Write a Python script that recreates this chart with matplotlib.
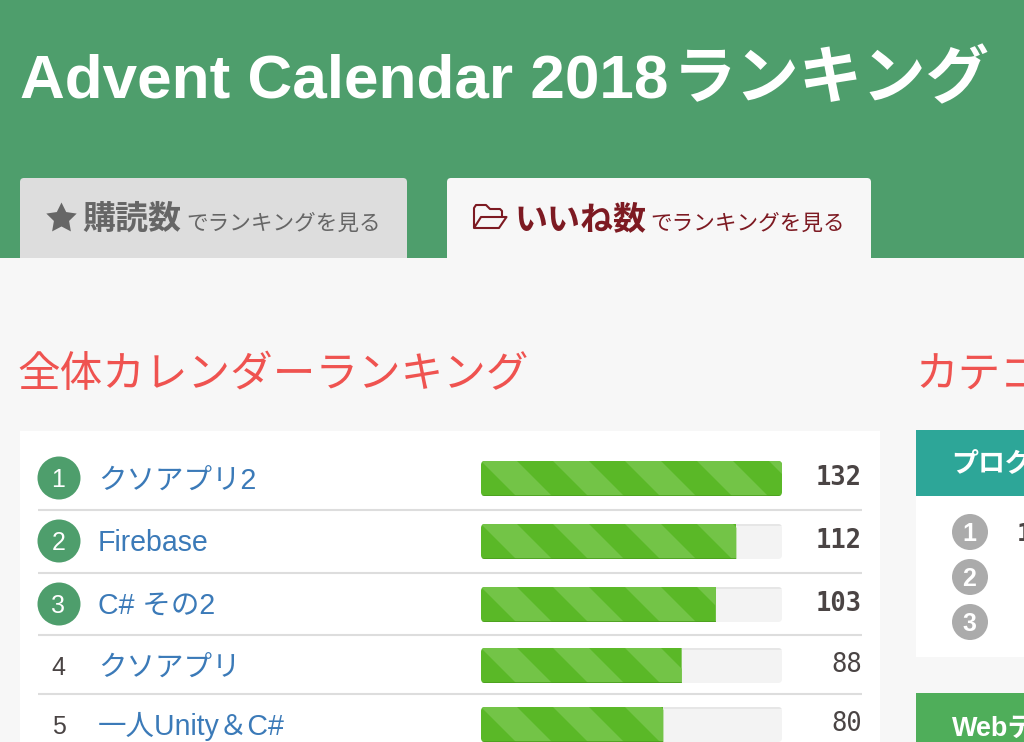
import matplotlib
matplotlib.use("Agg")
import numpy as np
import matplotlib.pyplot as plt
from matplotlib.patches import Rectangle, Circle, PathPatch, Polygon
from matplotlib.path import Path

RANKS = ["1", "2", "3", "4", "5"]
NAMES = ["クソアプリ2", "Firebase", "C# その2", "クソアプリ", "一人Unity＆C#"]
VALUES = [132, 112, 103, 88, 80]
MAX_VALUE = 132
SIDE_RANKS = ["1", "2", "3"]

SANS = ["Liberation Sans", "Noto Sans CJK JP", "DejaVu Sans"]
JP = ["Noto Sans CJK JP", "DejaVu Sans"]
plt.rcParams["font.family"] = SANS

HEADER = "#4E9E6C"
PAGE = "#F7F7F7"
LINK = "#3B7AB8"
INK = "#4A4444"
PX = 0.72

fig = plt.figure(figsize=(10.24, 7.42), dpi=100, facecolor=PAGE)
ax = fig.add_axes([0, 0, 1, 1])
ax.set_xlim(0, 1024)
ax.set_ylim(742, 0)
ax.axis("off")


def rounded(x0, y0, x1, y1, rl, rr):
    M, L, C = Path.MOVETO, Path.LINETO, Path.CURVE3
    v = [(x0 + rl, y0), (x1 - rr, y0), (x1, y0), (x1, y0 + rr), (x1, y1 - rr), (x1, y1), (x1 - rr, y1),
         (x0 + rl, y1), (x0, y1), (x0, y1 - rl), (x0, y0 + rl), (x0, y0), (x0 + rl, y0), (x0 + rl, y0)]
    c = [M, L, C, C, L, C, C, L, C, C, L, C, C, Path.CLOSEPOLY]
    return Path(v, c)


def T(x, y, s, px, color, **kw):
    kw.setdefault("va", "baseline")
    return ax.text(x, y, s, fontsize=px * PX, color=color, **kw)


# header and tabs
ax.add_patch(Rectangle((0, 0), 1024, 258, fc=HEADER, ec="none", zorder=0))
T(20, 98, "Advent Calendar 2018", 62, "white", fontweight="bold")
T(672.5, 98, "ランキング", 63.4, "white", fontweight="bold", family=JP)
ax.add_patch(PathPatch(rounded(20, 178, 407, 262, 4, 4), fc="#DDDDDD", ec="none", zorder=1))
ax.add_patch(PathPatch(rounded(447, 178, 871, 262, 4, 4), fc=PAGE, ec="none", zorder=1))
ax.add_patch(Rectangle((0, 258), 1024, 6, fc=PAGE, ec="none", zorder=1.5))

star = Path.unit_regular_star(5, innerCircle=0.5)
ax.plot([60.5], [218], marker=star, ms=23, mfc="#666666", mec="none", zorder=2)
T(82, 229, "購読数", 33, "#666666", fontweight="bold", family=JP)
T(186, 230, "でランキングを見る", 21.6, "#666666", family=JP)

folder = Path([(474, 228), (474, 208), (476, 205), (486, 205), (490, 209), (500, 209), (502, 211), (502, 217),
               (481, 217), (474, 228), (499, 228), (506.5, 217), (502, 217)],
              [Path.MOVETO] + [Path.LINETO] * 12)
ax.add_patch(PathPatch(folder, fc="none", ec="#7D1A22", lw=1.5, joinstyle="round", zorder=2))
T(514, 229, "いいね数", 33, "#7D1A22", fontweight="bold", family=JP)
T(650, 230, "でランキングを見る", 21.6, "#7D1A22", family=JP)

# headings
T(17.5, 386.5, "全体カレンダーランキング", 42.6, "#EF5350", family=JP)
T(915, 386.5, "カテゴリ別ランキング", 42.6, "#EF5350", family=JP, clip_on=True)

# main card
ax.add_patch(Rectangle((20, 431), 860, 320, fc="white", ec="none", zorder=1))
row_text = [489, 551, 614, 676, 735]
num_base = [485, 548, 611, 672, 731]
rank_base = [487, 550, 613, 675, 734]
bar_top = [461, 524, 587, 648, 707]
circle_y = [478, 541, 604]
seps = [510, 573, 635, 694]
BAR_X, BAR_W, BAR_H = 481, 301, 35

for y in seps:
    ax.plot([38, 862], [y, y], color="#DDDDDD", lw=1.5, solid_capstyle="butt", zorder=2)

for cy in circle_y:
    ax.add_patch(Circle((59, cy), 21.5, fc=HEADER, ec="none", zorder=2))
for i, r in enumerate(RANKS):
    T(58.5, rank_base[i], r, 25, "white" if i < 3 else INK, ha="center", zorder=3)

for i, name in enumerate(NAMES):
    T(98, row_text[i], name, 28.5, LINK, zorder=3)

widths = [v / MAX_VALUE * BAR_W for v in VALUES]
centers = [t + BAR_H / 2 for t in bar_top]
track = ax.barh(centers, [BAR_W] * 5, left=BAR_X, height=BAR_H, color="#F3F3F3", zorder=2)
fills = ax.barh(centers, widths, left=BAR_X, height=BAR_H, color="#5AB827", zorder=3)

for i, (t, w) in enumerate(zip(bar_top, widths)):
    full = w >= BAR_W - 0.5
    track_path = PathPatch(rounded(BAR_X, t, BAR_X + BAR_W, t + BAR_H, 4, 4), transform=ax.transData)
    track[i].set_clip_path(track_path)
    clip = PathPatch(rounded(BAR_X, t, BAR_X + w, t + BAR_H, 4, 4 if full else 0), transform=ax.transData)
    fills[i].set_clip_path(clip)
    for k in range(-1, 6):
        x = BAR_X + k * 72
        st = Polygon([(x, t), (x + 36, t), (x + 36 + BAR_H, t + BAR_H), (x + BAR_H, t + BAR_H)],
                     fc="#73C447", ec="none", zorder=3.2)
        ax.add_patch(st)
        st.set_clip_path(clip)
    edge = Rectangle((BAR_X, t + BAR_H - 1.5), w, 1.5, fc="#4A9E1E", ec="none", zorder=3.4, alpha=0.8)
    ax.add_patch(edge)
    edge.set_clip_path(clip)
    top = Rectangle((BAR_X + w, t), BAR_W - w, 1.5, fc="#E6E6E6", ec="none", zorder=2.5)
    ax.add_patch(top)
    top.set_clip_path(track_path)

for i, v in enumerate(VALUES):
    T(862, num_base[i], str(v), 25.5, INK, ha="right", family="DejaVu Sans Mono",
      fontweight="bold" if i < 3 else "normal", zorder=3)

# side cards
ax.add_patch(Rectangle((916, 430), 108, 66, fc="#2DA698", ec="none", zorder=1))
ax.add_patch(Rectangle((916, 496), 108, 161, fc="white", ec="none", zorder=1))
ax.add_patch(Rectangle((916, 693), 108, 49, fc="#4FAE5A", ec="none", zorder=1))
T(951, 472, "プログラミング", 27, "white", fontweight="bold", family=JP, clip_on=True, zorder=2)
T(952, 736, "Webテクノロジー", 27, "white", fontweight="bold", clip_on=True, zorder=2)
for cy, r in zip([532, 577, 622], SIDE_RANKS):
    ax.add_patch(Circle((970, cy), 18, fc="#ABABAB", ec="none", zorder=2))
    T(969.5, cy + 9, r, 25, "white", ha="center", fontweight="bold", zorder=3)
T(1017, 541, "1", 25, INK, family="DejaVu Sans Mono", fontweight="bold", clip_on=True, zorder=3)

fig.savefig("out.png", dpi=100, facecolor=PAGE)
